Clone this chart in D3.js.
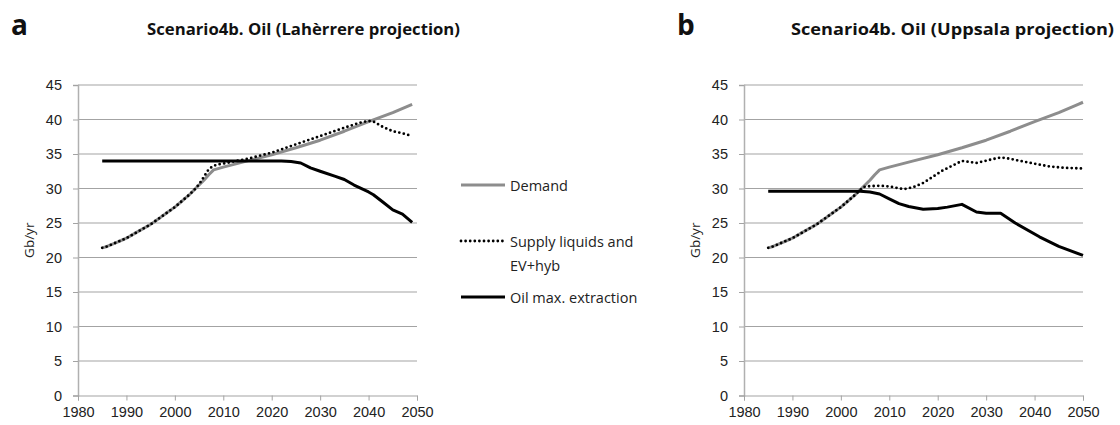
<!DOCTYPE html>
<html>
<head>
<meta charset="utf-8">
<script src="https://cdn.jsdelivr.net/npm/d3@7"></script>
<style>
  html, body { margin: 0; padding: 0; background: #fff; }
  svg { display: block; font-family: "Open Sans", Lato, sans-serif; }
  .tick text { font-size: 14.5px; fill: #222; }
</style>
</head>
<body>
<svg id="chart" width="1120" height="425"></svg>
<script>
// Historical liquids supply (= demand) 1985-2004, Gb/yr
const histYears = [1985,1986,1987,1988,1989,1990,1991,1992,1993,1994,1995,1996,1997,1998,1999,2000,2001,2002,2003,2004];
const histGb    = [21.4,21.6,21.9,22.2,22.5,22.8,23.2,23.6,24.0,24.4,24.8,25.3,25.8,26.3,26.8,27.3,27.9,28.5,29.1,29.8];

// Demand projection (same in both scenarios)
const demandYears = [2005,2006,2007,2008,2010,2015,2020,2025,2030,2035,2040,2045,2049,2050];
const demandGb    = [30.5,31.2,32.0,32.7,33.1,34.0,34.9,35.9,37.0,38.3,39.7,41.0,42.2,42.5];

// Panel a: Lahèrrere projection
const supplyAYears = [2005,2006,2007,2008,2009,2010,2012,2015,2020,2025,2030,2035,2038,2040,2041,2043,2045,2047,2049];
const supplyAGb    = [30.6,31.7,32.8,33.3,33.5,33.6,33.9,34.3,35.2,36.4,37.6,38.8,39.5,39.8,39.7,38.9,38.3,38.0,37.6];
const oilAYears = [1985,2022,2024,2026,2028,2030,2033,2035,2037,2040,2041,2043,2045,2047,2049];
const oilAGb    = [34.0,34.0,33.9,33.7,33.0,32.5,31.8,31.3,30.5,29.5,29.1,28.0,26.9,26.3,25.1];

// Panel b: Uppsala projection
const supplyBYears = [2005,2008,2010,2013,2015,2017,2019,2021,2023,2025,2028,2031,2033,2035,2037,2040,2043,2046,2050];
const supplyBGb    = [30.3,30.4,30.3,29.9,30.2,30.8,31.7,32.6,33.3,34.0,33.7,34.2,34.5,34.3,34.0,33.6,33.2,33.0,32.9];
const oilBYears = [1985,2004,2006,2008,2010,2012,2014,2017,2020,2022,2025,2028,2030,2033,2036,2041,2045,2050];
const oilBGb    = [29.6,29.6,29.5,29.2,28.5,27.8,27.4,27.0,27.1,27.3,27.7,26.6,26.4,26.4,25.0,23.0,21.6,20.3];

// Axis ticks
const xTicks = [1980,1990,2000,2010,2020,2030,2040,2050];
const yTicks = [0,5,10,15,20,25,30,35,40,45];

// Legend
const legendLabels = ["Demand", ["Supply liquids and", "EV+hyb"], "Oil max. extraction"];

const zip = (ys, vs) => ys.map((yr, i) => ({ year: yr, value: vs[i] }));
const hist = zip(histYears, histGb);
const demand = hist.concat(zip(demandYears, demandGb));

const panels = [
  {
    letter: "a", left: 78, lastYear: 2049,
    title: "Scenario4b. Oil (Lahèrrere projection)", titleX: 147, titleW: 313,
    supply: hist.concat(zip(supplyAYears, supplyAGb)),
    oil: zip(oilAYears, oilAGb)
  },
  {
    letter: "b", left: 744, lastYear: 2050,
    title: "Scenario4b. Oil (Uppsala projection)", titleX: 791, titleW: 323,
    supply: hist.concat(zip(supplyBYears, supplyBGb)),
    oil: zip(oilBYears, oilBGb)
  }
];

const svg = d3.select("#chart");
const plotTop = 85, plotBottom = 395.5, plotW = 339;
const gridColor = "#a3a3a3";
const demandColor = "#8d8d8d";

const yScale = d3.scaleLinear().domain([0, 45]).range([plotBottom, plotTop]);

panels.forEach(p => {
  const xScale = d3.scaleLinear().domain([1980, 2050]).range([p.left, p.left + plotW]);

  // panel letter
  svg.append("text")
    .attr("x", p.left - 67).attr("y", 35)
    .attr("font-size", 28).attr("font-weight", 700).attr("fill", "#111")
    .text(p.letter);

  // title
  svg.append("text")
    .attr("x", p.titleX).attr("y", 35)
    .attr("font-size", 16.5).attr("font-weight", 700).attr("fill", "#111")
    .attr("textLength", p.titleW).attr("lengthAdjust", "spacingAndGlyphs")
    .text(p.title);

  // horizontal gridlines
  svg.append("g").selectAll("line")
    .data(yTicks.filter(t => t > 0))
    .join("line")
    .attr("x1", p.left).attr("x2", p.left + plotW)
    .attr("y1", d => yScale(d)).attr("y2", d => yScale(d))
    .attr("stroke", gridColor).attr("stroke-width", 1);

  // y axis
  const gy = svg.append("g")
    .attr("transform", `translate(${p.left},0)`)
    .call(d3.axisLeft(yScale).tickValues(yTicks).tickSize(5).tickPadding(11));
  gy.select(".domain").attr("stroke", "#b0b0b0").attr("stroke-width", 1.5);
  gy.selectAll(".tick line").attr("stroke", gridColor);

  // x axis
  const gx = svg.append("g")
    .attr("transform", `translate(0,${plotBottom})`)
    .call(d3.axisBottom(xScale).tickValues(xTicks).tickFormat(d3.format("d")).tickSize(5).tickPadding(6));
  gx.select(".domain").attr("stroke", gridColor).attr("stroke-width", 1);
  gx.selectAll(".tick line").attr("stroke", gridColor);

  // y axis title
  svg.append("text")
    .attr("transform", `translate(${p.left - 48},${(plotTop + plotBottom) / 2}) rotate(-90)`)
    .attr("text-anchor", "middle").attr("dominant-baseline", "middle")
    .attr("font-size", 13.5).attr("fill", "#222")
    .text("Gb/yr");

  const line = d3.line().x(d => xScale(d.year)).y(d => yScale(d.value));

  svg.append("path")
    .datum(demand.filter(d => d.year <= p.lastYear))
    .attr("d", line)
    .attr("fill", "none").attr("stroke", demandColor).attr("stroke-width", 3)
    .attr("stroke-linejoin", "round");

  svg.append("path")
    .datum(p.supply)
    .attr("d", line)
    .attr("fill", "none").attr("stroke", "#000").attr("stroke-width", 2.8)
    .attr("stroke-dasharray", "0 4.6").attr("stroke-linecap", "round");

  svg.append("path")
    .datum(p.oil)
    .attr("d", line)
    .attr("fill", "none").attr("stroke", "#000").attr("stroke-width", 3)
    .attr("stroke-linejoin", "round");
});

// legend between the panels
const lg = svg.append("g").attr("font-size", 14.5).attr("fill", "#222");
const lx0 = 461, lx1 = 505, ltx = 510;
const rows = [
  { y: 185, stroke: demandColor, dash: null, cap: "butt", label: legendLabels[0] },
  { y: 241, stroke: "#000", dash: "0 4.6", cap: "round", label: legendLabels[1] },
  { y: 297, stroke: "#000", dash: null, cap: "butt", label: legendLabels[2] }
];
rows.forEach(r => {
  lg.append("line")
    .attr("x1", lx0).attr("x2", lx1).attr("y1", r.y).attr("y2", r.y)
    .attr("stroke", r.stroke).attr("stroke-width", r.dash ? 2.8 : 3)
    .attr("stroke-dasharray", r.dash).attr("stroke-linecap", r.cap);
  const lines = Array.isArray(r.label) ? r.label : [r.label];
  lines.forEach((t, i) => {
    lg.append("text")
      .attr("x", ltx).attr("y", r.y + i * 24)
      .attr("dominant-baseline", "central")
      .text(t);
  });
});
</script>
</body>
</html>
